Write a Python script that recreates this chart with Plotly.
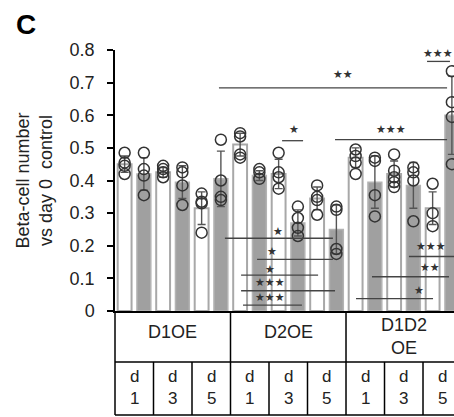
import plotly.graph_objects as go

# ---------------- data ----------------
groups = ["D1OE", "D2OE", "D1D2<br>OE"]
days = ["d<br>1", "d<br>3", "d<br>5"]

white_means = [0.45, 0.425, 0.315, 0.51, 0.42, 0.345, 0.47, 0.42, 0.315]
white_err = [0.025, 0.015, 0.05, 0.035, 0.045, 0.035, 0.03, 0.04, 0.05]
white_points = [
    [0.485, 0.455, 0.445, 0.42],
    [0.445, 0.435, 0.425, 0.41],
    [0.36, 0.335, 0.33, 0.24],
    [0.545, 0.535, 0.48, 0.47],
    [0.485, 0.425, 0.41, 0.375],
    [0.385, 0.35, 0.34, 0.295],
    [0.495, 0.475, 0.455, 0.42],
    [0.48, 0.43, 0.41, 0.395, 0.38],
    [0.39, 0.3, 0.26],
]

gray_means = [0.42, 0.395, 0.405, 0.415, 0.27, 0.25, 0.395, 0.385, 0.60]
gray_err = [0.05, 0.05, 0.085, 0.015, 0.04, 0.075, 0.08, 0.07, 0.12]
gray_points = [
    [0.485, 0.435, 0.415, 0.355],
    [0.44, 0.425, 0.385, 0.325],
    [0.525, 0.4, 0.35, 0.34],
    [0.435, 0.425, 0.405],
    [0.32, 0.285, 0.255, 0.23],
    [0.32, 0.31, 0.19, 0.175],
    [0.47, 0.46, 0.355, 0.29],
    [0.44, 0.425, 0.4, 0.275],
    [0.735, 0.64, 0.595, 0.45],
]

y_ticks = [0, 0.1, 0.2, 0.3, 0.4, 0.5, 0.6, 0.7, 0.8]
y_ticklabels = ["0", "0.1", "0.2", "0.3", "0.4", "0.5", "0.6", "0.7", "0.8"]

# significance brackets: (x start, x end, y, label, label x, label y) in bar-index units
sig_x0 = [4.90, 15.71, 8.18, 10.93, 5.21, 6.88, 6.05, 6.05, 6.15, 14.77, 12.85, 12.02]
sig_x1 = [16.75, 16.90, 9.27, 16.75, 10.82, 10.82, 10.05, 10.93, 9.21, 17.5, 16.85, 16.02]
sig_y = [0.684, 0.765, 0.522, 0.525, 0.223, 0.158, 0.11, 0.062, 0.018, 0.167, 0.105, 0.038]
sig_lab = ["**", "***", "*", "***", "*", "*", "*", "***", "***", "***", "**", "*"]
sig_tx = [11.34, 16.28, 8.80, 13.84, 7.97, 7.66, 7.55, 7.55, 7.55, 15.92, 15.86, 15.29]
sig_ty = [0.724, 0.79, 0.555, 0.555, 0.245, 0.181, 0.126, 0.087, 0.042, 0.199, 0.134, 0.064]

# ---------------- figure ----------------
FONT = "Liberation Sans, Arial, sans-serif"
n = len(white_means)
white_x = [2 * i for i in range(n)]
gray_x = [2 * i + 1 for i in range(n)]

fig = go.Figure()
fig.add_trace(go.Bar(
    x=white_x, y=white_means, width=0.72,
    marker=dict(color="white", line=dict(color="#a8a8a8", width=2)),
    error_y=dict(type="data", array=white_err, color="#555555", thickness=1.4, width=4),
    showlegend=False,
))
fig.add_trace(go.Bar(
    x=gray_x, y=gray_means, width=0.72,
    marker=dict(color="#a0a0a0", line=dict(color="#b3b3b3", width=1.5)),
    error_y=dict(type="data", array=gray_err, color="#555555", thickness=1.4, width=4),
    showlegend=False,
))

px, py = [], []
for xs, pts in ((white_x, white_points), (gray_x, gray_points)):
    for xi, p in zip(xs, pts):
        px += [xi] * len(p)
        py += p
fig.add_trace(go.Scatter(
    x=px, y=py, mode="markers",
    marker=dict(symbol="circle-open", size=11, color="#333333", line=dict(width=1.5)),
    showlegend=False, cliponaxis=False,
))

shapes = []
annotations = []
# significance
for x0, x1, y, lab, tx, ty in zip(sig_x0, sig_x1, sig_y, sig_lab, sig_tx, sig_ty):
    shapes.append(dict(type="line", xref="x", yref="y", x0=x0, x1=x1, y0=y, y1=y,
                       line=dict(color="#444444", width=1.3), layer="above"))
    annotations.append(dict(x=tx, y=ty, xref="x", yref="y", text="★" * len(lab),
                            showarrow=False, font=dict(size=11, color="#333333",
                                                       family="DejaVu Sans"),
                            xanchor="center", yanchor="middle"))

# category table below axis
row1 = -0.195
row2 = -0.398
tbl = dict(color="black", width=1.5)
shapes.append(dict(type="line", xref="paper", yref="paper", x0=0, x1=0, y0=0, y1=row2, line=tbl))
for gi in range(len(groups)):
    xb = gi * 6 + 5.5
    shapes.append(dict(type="line", xref="x", yref="paper", x0=xb, x1=xb, y0=0, y1=row2, line=tbl))
    for di in range(1, len(days)):
        xd = gi * 6 + di * 2 - 0.5
        shapes.append(dict(type="line", xref="x", yref="paper", x0=xd, x1=xd, y0=row1, y1=row2, line=tbl))
for yy in (row1, row2):
    shapes.append(dict(type="line", xref="paper", yref="paper", x0=0, x1=1, y0=yy, y1=yy, line=tbl))

lab_font = dict(size=18, color="#222222", family=FONT)
for gi, g in enumerate(groups):
    gy = -0.0975 if "<br>" in g else -0.08
    annotations.append(dict(x=gi * 6 + 2.5, y=gy, xref="x", yref="paper", text=g,
                            showarrow=False, font=lab_font,
                            xanchor="center", yanchor="middle"))
    for di, d in enumerate(days):
        xc = gi * 6 + di * 2 + 0.5
        annotations.append(dict(x=xc, y=-0.293, xref="x", yref="paper",
                                text=d, showarrow=False,
                                font=dict(size=17, color="#222222", family=FONT),
                                xanchor="center", yanchor="middle"))

annotations.append(dict(x=-0.263, y=1.098, xref="paper", yref="paper", text="<b>C</b>",
                        showarrow=False, font=dict(size=28, color="black", family=FONT),
                        xanchor="center", yanchor="middle"))

fig.update_layout(
    width=454, height=417,
    margin=dict(l=115, r=0, t=50, b=106),
    paper_bgcolor="white", plot_bgcolor="white",
    barmode="overlay",
    font=dict(family=FONT, color="#222222"),
    shapes=shapes, annotations=annotations,
    xaxis=dict(range=[-0.5, 17.11], showticklabels=False, showgrid=False, zeroline=False,
               showline=True, linecolor="black", linewidth=1.5, ticks=""),
    yaxis=dict(range=[0, 0.8], tickvals=y_ticks, ticktext=y_ticklabels,
               showgrid=False, zeroline=False, showline=True, linecolor="black", linewidth=1.5,
               ticks="outside", ticklen=6, tickcolor="black", tickwidth=1.5,
               ticklabelstandoff=9,
               tickfont=dict(size=18, color="#222222", family=FONT),
               title=dict(text="Beta-cell number<br>vs day 0  control", standoff=12,
                          font=dict(size=18, color="#222222", family=FONT))),
)

fig.write_html("out.html", config={"displayModeBar": False},
               post_script="document.body.style.margin='0';document.body.style.overflow='hidden';")
